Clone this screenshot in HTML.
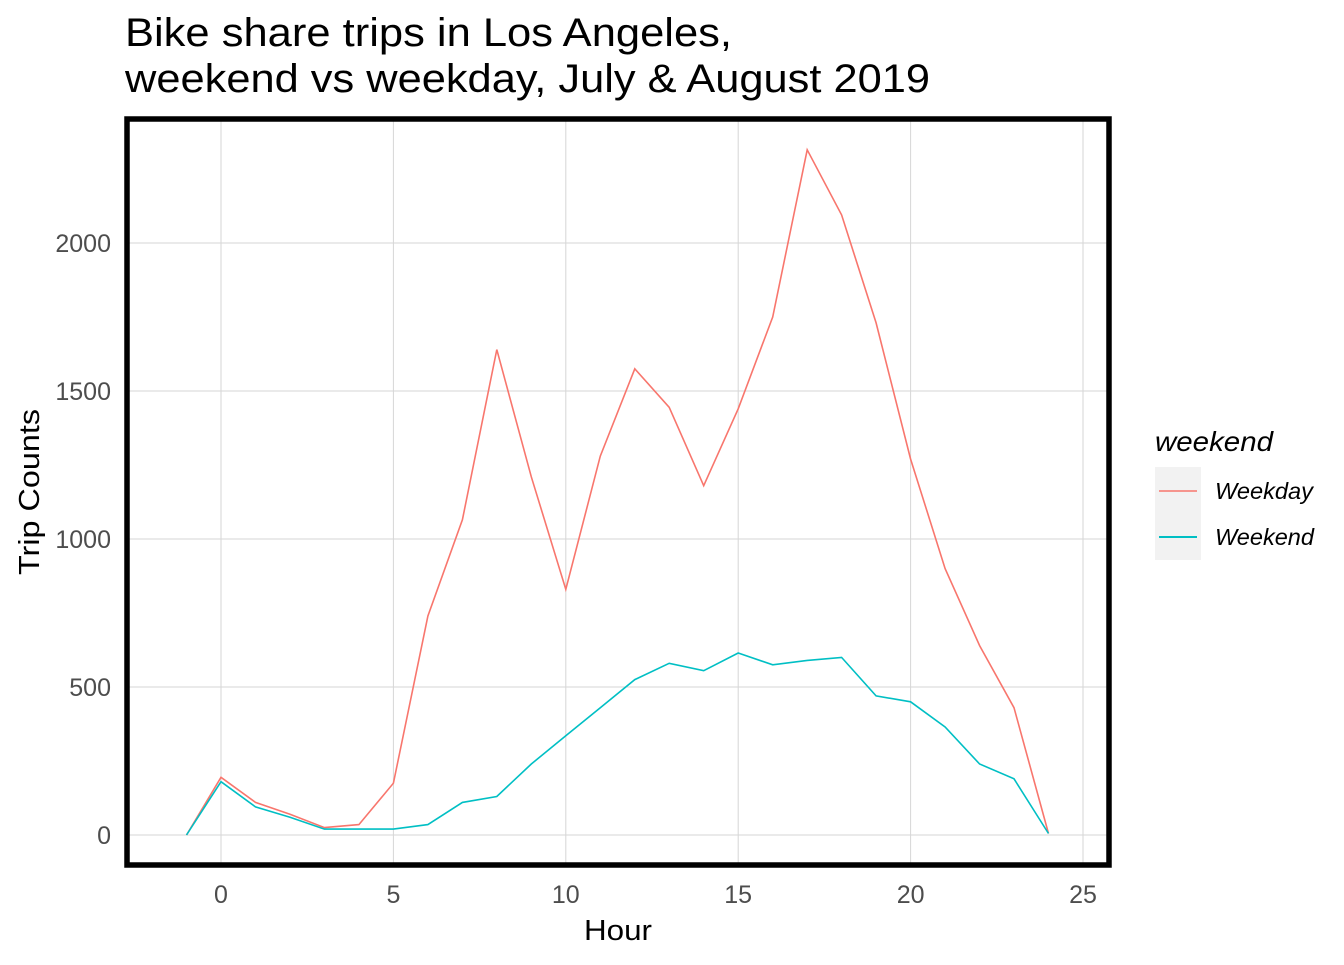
<!DOCTYPE html>
<html><head><meta charset="utf-8"><style>
body{margin:0;background:#fff;}
svg text{font-family:"Liberation Sans",Arial,sans-serif;}
</style></head><body>
<svg id="chart" width="1344" height="960" xmlns="http://www.w3.org/2000/svg">
<text x="125" y="46" font-size="40" fill="#000" textLength="607" lengthAdjust="spacingAndGlyphs">Bike share trips in Los Angeles,</text>
<text x="125" y="92" font-size="40" fill="#000" textLength="805" lengthAdjust="spacingAndGlyphs">weekend vs weekday, July &amp; August 2019</text>
<g id="grid"></g>
<g id="lines"></g>
<rect x="127" y="119" width="982" height="746" fill="none" stroke="#000" stroke-width="5.5"/>
<g id="ticks"></g>
<text x="618" y="940" font-size="29" text-anchor="middle" fill="#000" textLength="68" lengthAdjust="spacingAndGlyphs">Hour</text>
<text transform="translate(39,492) rotate(-90)" font-size="29" text-anchor="middle" fill="#000" textLength="166" lengthAdjust="spacingAndGlyphs">Trip Counts</text>
<g>
<text x="1155" y="451" font-size="28" font-style="italic" fill="#000" textLength="118" lengthAdjust="spacingAndGlyphs">weekend</text>
<rect x="1155" y="467" width="46" height="93" fill="#f2f2f2"/>
<line x1="1159" x2="1197" y1="491" y2="491" stroke="#F8766D" stroke-width="1.5"/>
<line x1="1159" x2="1197" y1="537" y2="537" stroke="#00BFC4" stroke-width="2"/>
<text x="1215" y="499" font-size="23" font-style="italic" fill="#000" textLength="98" lengthAdjust="spacingAndGlyphs">Weekday</text>
<text x="1215" y="545" font-size="23" font-style="italic" fill="#000" textLength="99" lengthAdjust="spacingAndGlyphs">Weekend</text>
</g>
</svg>
<script>
const hours=[-1,0,1,2,3,4,5,6,7,8,9,10,11,12,13,14,15,16,17,18,19,20,21,22,23,24];
const weekday=[0,195,110,70,25,35,175,740,1065,1640,1210,830,1280,1575,1445,1180,1440,1750,2315,2095,1730,1270,900,640,430,5];
const weekend=[0,180,95,60,20,20,20,35,110,130,240,335,430,525,580,555,615,575,590,600,470,450,365,240,190,5];
const xTicks=[0,5,10,15,20,25];
const yTicks=[0,500,1000,1500,2000];
const X=v=>221+v*34.48;
const Y=v=>835-v*0.296;
const NS="http://www.w3.org/2000/svg";
const grid=document.getElementById('grid'),ticks=document.getElementById('ticks'),lines=document.getElementById('lines');
function mk(t,a,p){const e=document.createElementNS(NS,t);for(const k in a)e.setAttribute(k,a[k]);p.appendChild(e);return e;}
xTicks.forEach(t=>{
 const l=mk('line',{x1:X(t),x2:X(t),y1:119,y2:865,stroke:'#d6d6d6','stroke-width':1},grid);
 
 
 const s=mk('text',{x:X(t),y:903,'font-size':25,'text-anchor':'middle',fill:'#4d4d4d'},ticks);s.textContent=t;
 
 
});
yTicks.forEach(t=>{
 const l=mk('line',{x1:127,x2:1109,y1:Y(t),y2:Y(t),stroke:'#d6d6d6','stroke-width':1},grid);
 
 
 const s=mk('text',{x:111,y:Y(t)+9,'font-size':25,'text-anchor':'end',fill:'#4d4d4d'},ticks);s.textContent=t;
 
 
});
function path(vals,color,name){
 const d=vals.map((v,i)=>(i?'L':'M')+X(hours[i]).toFixed(1)+','+Y(v).toFixed(1)).join(' ');
 const p=mk('path',{d:d,fill:'none',stroke:color,'stroke-width':1.6},lines);
 
 
}
path(weekday,'#F8766D','weekday-line');
path(weekend,'#00BFC4','weekend-line');
</script>
</body></html>
